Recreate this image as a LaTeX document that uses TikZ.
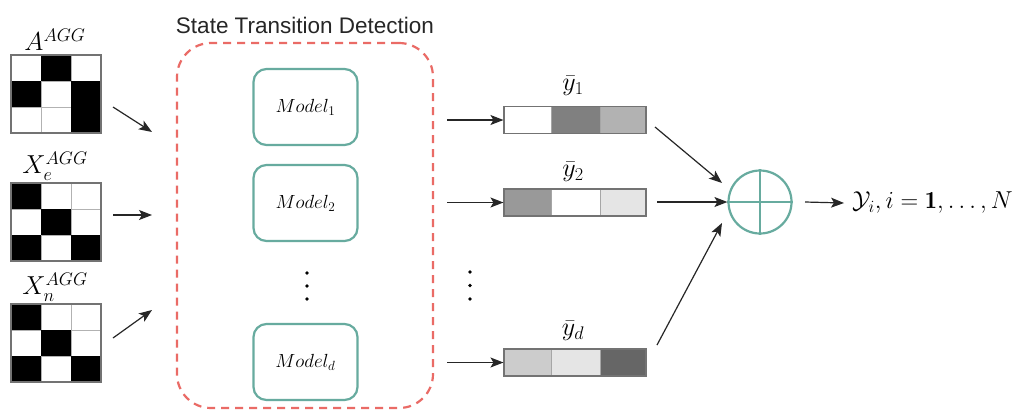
\RequirePackage{fix-cm}
\documentclass[tikz,border=0pt]{standalone}
\usepackage{fontspec}
\newfontfamily\titlefont{Liberation Sans}
\usetikzlibrary{arrows.meta}
\definecolor{teal1}{HTML}{67AB9F}
\definecolor{red1}{HTML}{EA6B66}
\tikzset{
  arr/.style={draw=black!85, line width=1.2pt, -{Stealth[length=13pt,width=10pt,inset=3pt]}},
  modelbox/.style={draw=teal1, line width=2.2pt, rounded corners=13pt, minimum width=104pt, minimum height=76pt, inner sep=0pt, font=\fontsize{19}{19}\selectfont},
  groupbox/.style={draw=red1, line width=2.2pt, dash pattern=on 8pt off 6pt, rounded corners=34pt, minimum width=256pt, minimum height=365pt, inner sep=0pt},
  gridline/.style={draw=black!30, line width=0.7pt},
  matframe/.style={draw=black!55, line width=1.2pt, minimum width=90pt, minimum height=78pt, inner sep=0pt},
  barframe/.style={draw=black!55, line width=1.1pt, minimum width=142pt, minimum height=27pt, inner sep=0pt},
  cell/.style={draw=black!35, line width=0.6pt},
  lbl/.style={font=\fontsize{26}{26}\selectfont, inner sep=0pt},
  dotn/.style={circle, fill=black, inner sep=0pt, minimum size=3.6pt},
  sumnode/.style={circle, draw=teal1, line width=2.2pt, minimum size=63pt, inner sep=0pt},
}
% matrix helpers: #1 = top y
\newcommand\mgrid[1]{\draw[gridline] (41,#1) -- (41,{#1+78}) (71,#1) -- (71,{#1+78}) (11,{#1+26}) -- (101,{#1+26}) (11,{#1+52}) -- (101,{#1+52});}
% #1 top y, #2 column, #3 row
\newcommand\mcell[3]{\fill[black] ({11+30*(#2-1)},{#1+26*(#3-1)}) rectangle ++(30,26);}
% bar: #1 name, #2 centre y, #3 #4 #5 colours
\newcommand\mybar[5]{%
  \filldraw[cell, fill=#3] (504,{#2-13.5}) rectangle (551,{#2+13.5});
  \filldraw[cell, fill=#4] (551,{#2-13.5}) rectangle (600,{#2+13.5});
  \filldraw[cell, fill=#5] (600,{#2-13.5}) rectangle (646,{#2+13.5});
  \node[barframe] (#1) at (575,#2) {};}
\begin{document}
\begin{tikzpicture}[x=1pt,y=-1pt]
\useasboundingbox (0,0) rectangle (1024,416);
\fill[white] (0,0) rectangle (1024,416);

% ---- input matrices ----
\mgrid{55}
\mcell{55}{2}{1}\mcell{55}{1}{2}\mcell{55}{3}{2}\mcell{55}{3}{3}
\node[matframe] (mA) at (56,94) {};
\node[lbl] (lA) at (55,40) {$A^{AGG}$};

\mgrid{183}
\mcell{183}{1}{1}\mcell{183}{2}{2}\mcell{183}{1}{3}\mcell{183}{3}{3}
\node[matframe] (mXe) at (56,222) {};
\node[lbl] (lXe) at (55,166) {$X_e^{AGG}$};

\mgrid{304}
\mcell{304}{1}{1}\mcell{304}{2}{2}\mcell{304}{1}{3}\mcell{304}{3}{3}
\node[matframe] (mXn) at (56,343) {};
\node[lbl] (lXn) at (55,287) {$X_n^{AGG}$};

\coordinate (s1) at (113,107); \coordinate (e1) at (152,132);
\coordinate (s2) at (113,215); \coordinate (e2) at (152,215);
\coordinate (s3) at (113,338); \coordinate (e3) at (152,310);
\draw[arr] (s1) -- (e1);
\draw[arr] (s2) -- (e2);
\draw[arr] (s3) -- (e3);

% ---- state transition detection ----
\node[groupbox] (grp) at (305,225.5) {};
\node[font=\titlefont\fontsize{22.5}{22.5}\selectfont, text=black!85] (title) at (305,25) {State Transition Detection};
\node[modelbox] (m1) at (305.5,107) {$Model_1$};
\node[modelbox] (m2) at (305.5,203) {$Model_2$};
\node[modelbox] (md) at (305.5,362) {$Model_d$};
\node[dotn] (d1) at (307,273) {};
\node[dotn] (d2) at (307,286) {};
\node[dotn] (d3) at (307,299) {};

% ---- output bars ----
\mybar{b1}{120}{white}{black!50}{black!30}
\mybar{b2}{202.5}{black!40}{white}{black!10}
\mybar{bd}{362.5}{black!20}{black!10}{black!60}
\node[lbl] (ly1) at (573,86) {$\bar{y}_1$};
\node[lbl] (ly2) at (573,172) {$\bar{y}_2$};
\node[lbl] (lyd) at (573,331) {$\bar{y}_d$};
\node[dotn] (f1) at (470,272) {};
\node[dotn] (f2) at (470,285.5) {};
\node[dotn] (f3) at (470,299) {};

\coordinate (o1) at (447,120);
\coordinate (o2) at (447,202.5);
\coordinate (od) at (447,362.5);
\draw[arr] (o1) -- (b1.west);
\draw[arr] (o2) -- (b2.west);
\draw[arr] (od) -- (bd.west);

% ---- aggregation ----
\node[sumnode] (sum) at (760,202) {};
\draw[teal1, line width=2.2pt] (sum.north) -- (sum.south) (sum.west) -- (sum.east);
\coordinate (p1) at (655,127);
\coordinate (p2) at (657,202);
\coordinate (p3) at (657,345);
\coordinate (t1) at (722,183);
\coordinate (t3) at (722,223);
\draw[arr] (p1) -- (t1);
\draw[arr] (p2) -- (sum.west);
\draw[arr] (p3) -- (t3);

\node[anchor=west, inner sep=0pt, font=\fontsize{24.5}{24.5}\selectfont] (out) at (852,203) {$\mathcal{Y}_i, i = \mathbf{1}, \ldots, N$};
\coordinate (q1) at (805,202);
\draw[arr] (q1) -- ([xshift=-8pt]out.west);
\end{tikzpicture}
\end{document}
